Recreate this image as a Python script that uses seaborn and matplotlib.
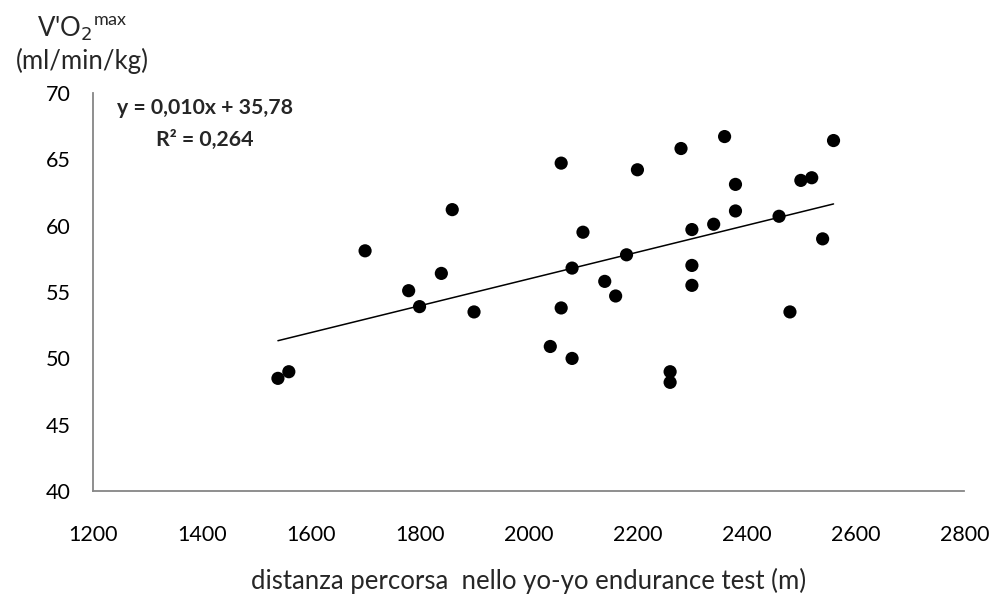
import numpy as np
import matplotlib
matplotlib.use("Agg")
import matplotlib.pyplot as plt
import pandas as pd
import seaborn as sns

#---------------------------------------------------------------------------
# DATA
# distanza = distance run in the yo-yo endurance test (m)
# vo2max   = V'O2max (ml/min/kg)
#---------------------------------------------------------------------------
distanza = [1540, 1560, 1700, 1780, 1800, 1840, 1860, 1900, 2040, 2060,
            2060, 2080, 2080, 2100, 2140, 2160, 2180, 2200, 2260, 2260,
            2280, 2300, 2300, 2300, 2340, 2360, 2380, 2380, 2460, 2480,
            2500, 2520, 2540, 2560]
vo2max = [48.5, 49.0, 58.1, 55.1, 53.9, 56.4, 61.2, 53.5, 50.9, 64.7,
          53.8, 56.8, 50.0, 59.5, 55.8, 54.7, 57.8, 64.2, 49.0, 48.2,
          65.8, 59.7, 57.0, 55.5, 60.1, 66.7, 63.1, 61.1, 60.7, 53.5,
          63.4, 63.6, 59.0, 66.4]

x_ticks = [1200, 1400, 1600, 1800, 2000, 2200, 2400, 2600, 2800]
y_ticks = [40, 45, 50, 55, 60, 65, 70]

eq_text = "y = 0,010x + 35,78\nR² = 0,264"
x_title = "distanza percorsa  nello yo-yo endurance test (m)"


def main():
    sns.set_style("white")
    plt.rcParams['font.family'] = ['Lato', 'DejaVu Sans']

    df = pd.DataFrame({"distanza": distanza, "vo2max": vo2max})

    fig = plt.figure(figsize=(9.95, 6.04), dpi=100)
    ax = fig.add_axes([0.0932, 0.1866, 0.8759, 0.6599])

    #-----------------------------------------------------------------------
    # SCATTER + LINEAR TREND
    #-----------------------------------------------------------------------
    sns.regplot(data=df, x="distanza", y="vo2max", ci=None, ax=ax,
                scatter_kws={"s": 90, "color": "black", "edgecolor": "none",
                             "alpha": 1, "zorder": 3},
                line_kws={"color": "black", "linewidth": 1.1})

    ax.set_xlim(1200, 2800)
    ax.set_ylim(40, 70)
    ax.set_xticks(x_ticks)
    ax.set_yticks(y_ticks)

    gray = "#868686"
    for side in ["top", "right"]:
        ax.spines[side].set_visible(False)
    for side in ["left", "bottom"]:
        ax.spines[side].set_color(gray)
        ax.spines[side].set_linewidth(1.3)

    ax.tick_params(axis="x", direction="out", length=5, width=1.1,
                   color=gray, pad=19, labelsize=15.5, labelcolor="black")
    ax.tick_params(axis="y", direction="out", length=6, width=1.1,
                   color=gray, pad=10, labelsize=15.5, labelcolor="black")

    ax.set_xlabel(x_title, fontsize=18.5, labelpad=17)
    ax.set_ylabel("")

    # y axis title sits above the axis, Excel style
    fig.text(0.0824, 0.953, "V'O$_2$$^{\\mathregular{max}}$", ha="center",
             va="center", fontsize=18.5)
    fig.text(0.0824, 0.899, "(ml/min/kg)", ha="center", va="center",
             fontsize=18.5)

    ax.text(0.129, 0.922, eq_text, transform=ax.transAxes, ha="center",
            va="center", fontsize=15.3, fontweight="bold", linespacing=1.75,
            multialignment="center")

    fig.savefig("out.png", dpi=100)
    plt.close(fig)


if __name__ == "__main__":
    main()
